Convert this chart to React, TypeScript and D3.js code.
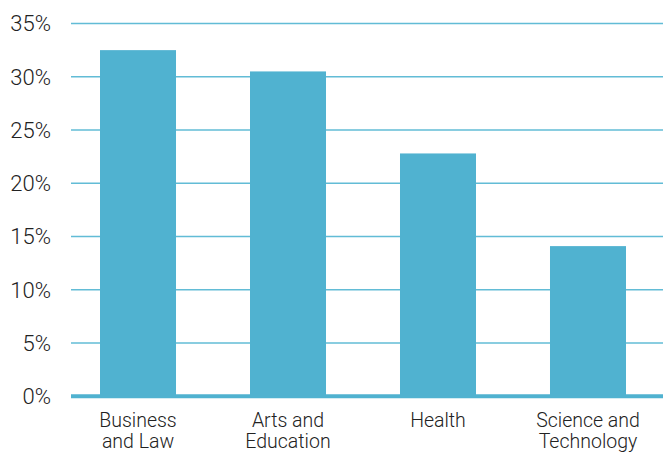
import React from "react";
import * as d3 from "d3";

const categories: string[][] = [
  ["Business", "and Law"],
  ["Arts and", "Education"],
  ["Health"],
  ["Science and", "Technology"],
];
const values: number[] = [32.5, 30.5, 22.8, 14.1];
const yTicks: number[] = [0, 5, 10, 15, 20, 25, 30, 35];

const W = 663;
const H = 454;
const BAR = "#50b2d0";
const GRID = "#62bcd6";
const FONT = "Roboto, 'DejaVu Sans', sans-serif";

export default function App() {
  const keys = categories.map((c) => c.join(" "));
  const x = d3
    .scaleBand<string>()
    .domain(keys)
    .range([63, 663])
    .paddingInner(0.4933)
    .paddingOuter(0.2467);
  const y = d3.scaleLinear().domain([0, 35]).range([396.3, 23.5]);
  const gridX0 = 71;

  return (
    <svg
      width={W}
      height={H}
      style={{ position: "absolute", left: 0, top: 0, background: "#fff" }}
    >
      {yTicks.map((t) => (
        <g key={t}>
          {t !== 0 && (
            <line
              x1={gridX0}
              x2={W}
              y1={y(t)}
              y2={y(t)}
              stroke={GRID}
              strokeWidth={1.6}
            />
          )}
          <text
            x={51}
            y={y(t)}
            dy="0.36em"
            textAnchor="end"
            fontFamily={FONT}
            fontWeight={300}
            fontSize={22}
            fill="#222"
          >
            {`${t}%`}
          </text>
        </g>
      ))}
      {values.map((v, i) => (
        <rect
          key={keys[i]}
          x={x(keys[i])}
          width={x.bandwidth()}
          y={y(v)}
          height={y(0) - y(v)}
          fill={BAR}
        />
      ))}
      <line
        x1={gridX0}
        x2={W}
        y1={y(0)}
        y2={y(0)}
        stroke={BAR}
        strokeWidth={4}
      />
      {categories.map((lines, i) =>
        lines.map((l, j) => (
          <text
            key={`${keys[i]}-${j}`}
            x={(x(keys[i]) as number) + x.bandwidth() / 2}
            y={426.5 + j * 21.8}
            textAnchor="middle"
            fontFamily={FONT}
            fontWeight={300}
            fontSize={19.5}
            fill="#222"
          >
            {l}
          </text>
        ))
      )}
    </svg>
  );
}
